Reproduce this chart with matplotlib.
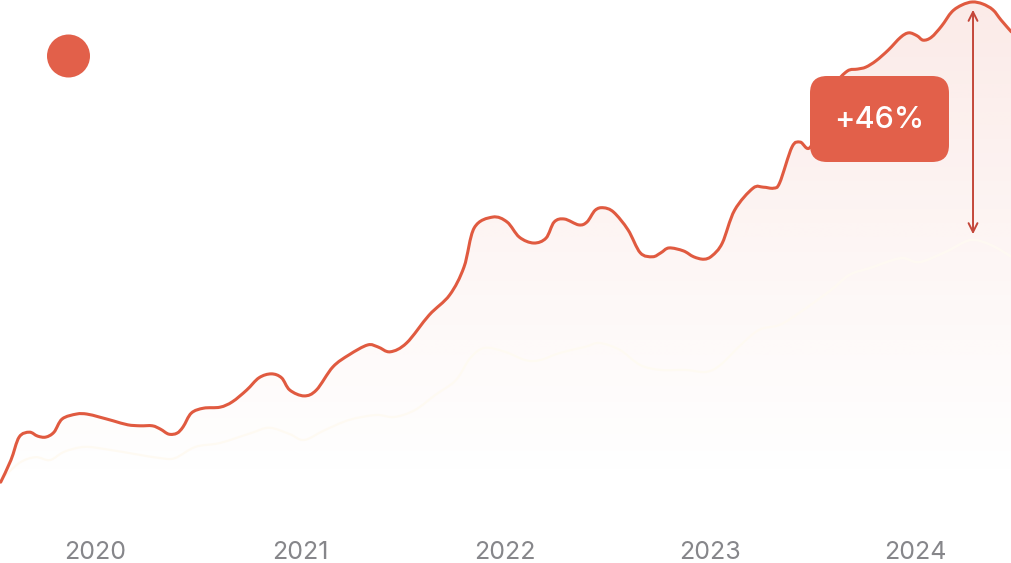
import numpy as np
import matplotlib
matplotlib.use("Agg")
import matplotlib.pyplot as plt
from matplotlib.patches import FancyBboxPatch, Circle, PathPatch
from matplotlib.path import Path

# main series (decimal year, index value)
years = [2019.54, 2019.59, 2019.63, 2019.68, 2019.72, 2019.76, 2019.80, 2019.84, 2019.91, 2019.96,
         2020.02, 2020.09, 2020.16, 2020.22, 2020.28, 2020.32, 2020.36, 2020.40, 2020.43, 2020.47,
         2020.53, 2020.61, 2020.67, 2020.74, 2020.80, 2020.86, 2020.91, 2020.95, 2021.02, 2021.08,
         2021.16, 2021.24, 2021.33, 2021.38, 2021.44, 2021.52, 2021.63, 2021.73, 2021.80, 2021.85,
         2021.94, 2022.01, 2022.07, 2022.14, 2022.20, 2022.24, 2022.29, 2022.36, 2022.40, 2022.44,
         2022.48, 2022.53, 2022.60, 2022.66, 2022.72, 2022.76, 2022.80, 2022.87, 2022.92, 2022.97,
         2023.01, 2023.06, 2023.12, 2023.21, 2023.26, 2023.31, 2023.34, 2023.40, 2023.44, 2023.49,
         2023.56, 2023.61, 2023.67, 2023.72, 2023.76, 2023.81, 2023.87, 2023.93, 2023.97, 2024.01,
         2024.04, 2024.08, 2024.13, 2024.18, 2024.23, 2024.28, 2024.33, 2024.38, 2024.42, 2024.47]
values = [1.6, 6.1, 10.8, 11.8, 11.0, 10.8, 11.8, 14.5, 15.5, 15.5,
          14.9, 14.1, 13.3, 13.1, 13.1, 12.4, 11.4, 11.6, 12.9, 15.7,
          16.7, 16.9, 18.0, 20.4, 22.9, 23.7, 22.9, 20.4, 19.2, 20.4,
          25.1, 27.6, 29.6, 29.2, 28.2, 30.0, 35.7, 39.8, 45.5, 53.5,
          55.7, 54.7, 51.6, 50.4, 51.4, 54.7, 55.3, 54.1, 54.7, 57.1,
          57.6, 56.7, 53.1, 48.4, 47.6, 48.4, 49.4, 48.8, 47.6, 47.1,
          47.8, 50.4, 57.1, 61.6, 61.8, 61.6, 62.7, 70.0, 71.0, 70.0,
          77.6, 82.7, 85.5, 85.9, 86.3, 87.6, 89.8, 92.4, 93.3, 92.7,
          91.8, 92.4, 94.7, 97.6, 99.0, 99.6, 99.2, 98.0, 95.9, 93.5]

# faint comparison series
base_years = [2019.54, 2019.63, 2019.71, 2019.78, 2019.85, 2019.95, 2020.07, 2020.20, 2020.32, 2020.39,
              2020.49, 2020.61, 2020.76, 2020.85, 2020.95, 2021.02, 2021.12, 2021.24, 2021.37, 2021.46,
              2021.56, 2021.66, 2021.76, 2021.83, 2021.90, 2022.00, 2022.10, 2022.17, 2022.27, 2022.39,
              2022.46, 2022.56, 2022.66, 2022.76, 2022.88, 2022.98, 2023.05, 2023.15, 2023.24, 2023.34,
              2023.44, 2023.59, 2023.68, 2023.78, 2023.93, 2024.02, 2024.15, 2024.27, 2024.37, 2024.47]
base_values = [2.0, 5.5, 6.7, 6.1, 7.8, 8.8, 8.2, 7.3, 6.5, 6.5,
               8.8, 9.6, 11.6, 12.7, 11.4, 10.2, 12.2, 14.3, 15.3, 14.9,
               16.3, 19.4, 22.4, 26.9, 29.0, 28.2, 26.5, 26.5, 28.0, 29.2,
               30.0, 28.6, 25.5, 24.5, 24.5, 24.1, 25.5, 29.6, 32.7, 33.7,
               36.3, 40.8, 43.9, 45.3, 47.3, 46.5, 48.6, 51.0, 50.0, 47.6]

tick_years = [2020, 2021, 2022, 2023, 2024]
change_label = "+46%"

RED = "#e05a40"
BOX = "#e2604a"


def smooth_path(xs, ys):
    # Catmull-Rom style bezier path through the given points
    p = np.column_stack([xs, ys]).astype(float)
    verts = [p[0]]
    codes = [Path.MOVETO]
    n = len(p)
    for i in range(n - 1):
        p0 = p[i - 1] if i > 0 else p[i]
        p3 = p[i + 2] if i + 2 < n else p[i + 1]
        c1 = p[i] + (p[i + 1] - p0) / 6
        c2 = p[i + 1] - (p3 - p[i]) / 6
        verts += [c1, c2, p[i + 1]]
        codes += [Path.CURVE4] * 3
    return verts, codes


fig = plt.figure(figsize=(10.11, 5.63), dpi=100)
ax = fig.add_axes([0, 0, 1, 1])
ymin, ymax = -14.9, 100
ax.set_xlim(2019.5366, 2024.4683)
ax.set_ylim(ymin, ymax)
ax.axis("off")

main_v, main_c = smooth_path(years, values)
base_v, base_c = smooth_path(base_years, base_values)

# gradient fill under the line
grad = np.zeros((256, 2, 4))
t = np.linspace(1, 0, 256)
yy = ymin + (ymax - ymin) * t
grad[:, :, 0] = 226 / 255
grad[:, :, 1] = 96 / 255
grad[:, :, 2] = 74 / 255
grad[:, :, 3] = (np.clip(yy / 100, 0, 1) ** 1.1 * 0.13)[:, None]
img = ax.imshow(grad, extent=[years[0], years[-1], ymin, ymax], aspect="auto",
                origin="upper", zorder=1, interpolation="bilinear")
fill_path = Path(main_v + [(years[-1], ymin), (years[0], ymin), main_v[0]],
                 main_c + [Path.LINETO, Path.LINETO, Path.CLOSEPOLY])
clip = PathPatch(fill_path, facecolor="none", edgecolor="none")
ax.add_patch(clip)
img.set_clip_path(clip)

ax.add_patch(PathPatch(Path(base_v, base_c), facecolor="none", edgecolor="#fffaf2",
                       lw=1.6, alpha=0.95, zorder=2))
ax.add_patch(PathPatch(Path(main_v, main_c), facecolor="none", edgecolor=RED,
                       lw=2.2, zorder=3, capstyle="round", joinstyle="round"))

# arrow between peak and comparison line
ax.annotate("", xy=(2024.283, 52.2), xytext=(2024.283, 98.0),
            arrowprops=dict(arrowstyle="<->", color="#c4473a", lw=1.4,
                            mutation_scale=16, shrinkA=0, shrinkB=0), zorder=4)

# label box
box = FancyBboxPatch((8.10, 4.01), 1.39, 0.86,
                     boxstyle="round,pad=0,rounding_size=0.17",
                     transform=fig.dpi_scale_trans, facecolor=BOX, edgecolor="none", zorder=5)
ax.add_patch(box)
fig.text(8.795 / 10.11, 4.43 / 5.63, change_label, color="white", fontsize=22,
         family=["Inter", "DejaVu Sans"], fontweight="medium", ha="center", va="center", zorder=6)

# dot top-left
dot = Circle((0.685, 5.07), 0.215, transform=fig.dpi_scale_trans,
             facecolor=BOX, edgecolor="none", zorder=5)
ax.add_patch(dot)

# year labels
for yr in tick_years:
    ax.text(yr, 0.018, str(yr), transform=ax.get_xaxis_transform(),
            ha="center", va="center", fontsize=18, color="#86868a",
            family=["Inter", "DejaVu Sans"])

fig.savefig("out.png", dpi=100)
